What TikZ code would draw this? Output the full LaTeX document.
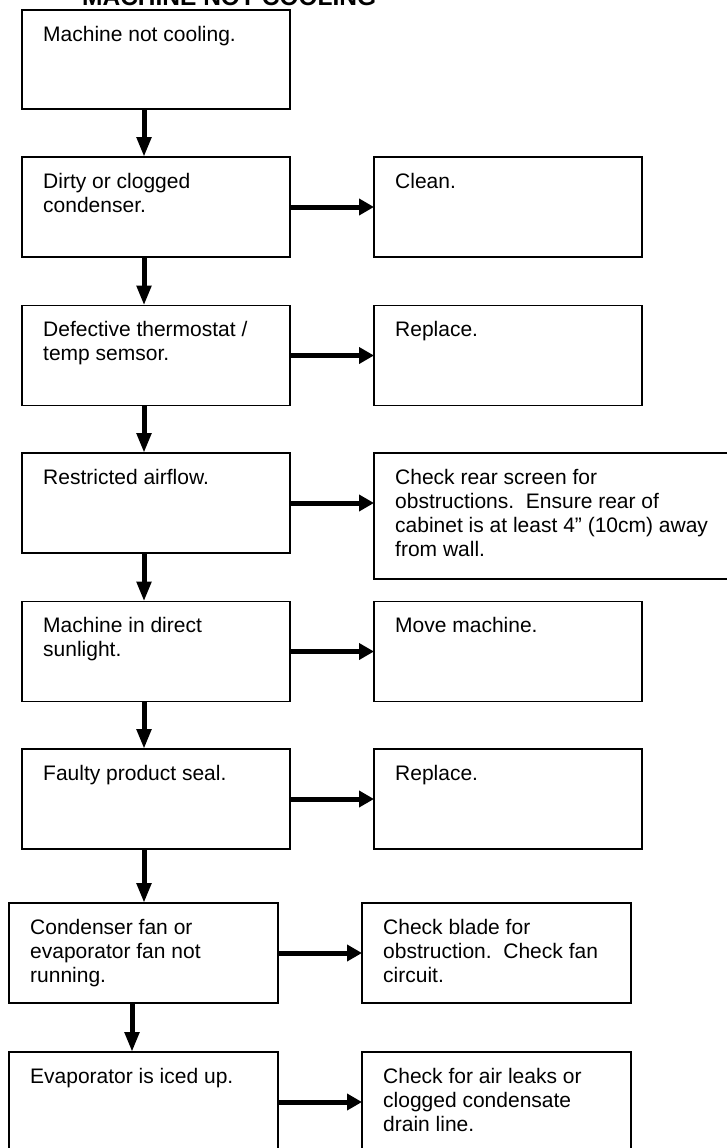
\documentclass[tikz,border=0pt]{standalone}
\usepackage{fontspec}
\setmainfont{Liberation Sans}
\usetikzlibrary{arrows.meta}
\begin{document}
\begin{tikzpicture}[x=1pt,y=-1pt,
  box/.style={draw=black, line width=1.6pt, minimum width=268pt, minimum height=100pt, inner sep=0pt, outer sep=0pt},
  txt/.style={anchor=north west, align=left, inner sep=0pt, font=\fontsize{21}{24}\selectfont},
  varr/.style={line width=5pt, -{Triangle[length=20pt,width=14pt]}},
  harr/.style={line width=5pt, -{Triangle[length=15pt,width=16pt]}}]
\useasboundingbox (0,0) rectangle (727,1148);
\node[font=\bfseries\fontsize{24.5}{28}\selectfont, anchor=base west, inner sep=0pt] (title) at (82,6) {MACHINE NOT COOLING};
% left column
\node[box, minimum height=99pt] (b1) at (156,59.5) {};
\node[box] (b2) at (156,207) {};
\node[box] (b3) at (156,355.5) {};
\node[box] (b4) at (156,503) {};
\node[box] (b5) at (156,651.5) {};
\node[box] (b6) at (156,799) {};
\node[box, minimum width=269pt] (b7) at (143.5,953) {};
\node[box, minimum width=269pt] (b8) at (143.5,1102) {};
% right column
\node[box] (r2) at (508,207) {};
\node[box] (r3) at (508,355.5) {};
\node[box, minimum width=396pt, minimum height=126pt] (r4) at (572,516) {};
\node[box] (r5) at (508,651.5) {};
\node[box] (r6) at (508,799) {};
\node[box, minimum width=269pt] (r7) at (496.5,953) {};
\node[box, minimum width=269pt] (r8) at (496.5,1102) {};
% texts
\newcommand{\fs}{\rule{0pt}{16pt}}
\node[txt] (t1) at ([shift={(21pt,-15pt)}]b1.north west) {\fs Machine not cooling.};
\node[txt] (t2) at ([shift={(21pt,-15pt)}]b2.north west) {\fs Dirty or clogged\\condenser.};
\node[txt] (t3) at ([shift={(21pt,-15pt)}]b3.north west) {\fs Defective thermostat /\\temp semsor.};
\node[txt] (t4) at ([shift={(21pt,-15pt)}]b4.north west) {\fs Restricted airflow.};
\node[txt] (t5) at ([shift={(21pt,-15pt)}]b5.north west) {\fs Machine in direct\\sunlight.};
\node[txt] (t6) at ([shift={(21pt,-15pt)}]b6.north west) {\fs Faulty product seal.};
\node[txt] (t7) at ([shift={(21pt,-15pt)}]b7.north west) {\fs Condenser fan or\\evaporator fan not\\running.};
\node[txt] (t8) at ([shift={(21pt,-15pt)}]b8.north west) {\fs Evaporator is iced up.};
\node[txt] (s2) at ([shift={(21pt,-15pt)}]r2.north west) {\fs Clean.};
\node[txt] (s3) at ([shift={(21pt,-15pt)}]r3.north west) {\fs Replace.};
\node[txt] (s4) at ([shift={(21pt,-15pt)}]r4.north west) {\fs Check rear screen for\\obstructions.\ \ Ensure rear of\\cabinet is at least 4” (10cm) away\\from wall.};
\node[txt] (s5) at ([shift={(21pt,-15pt)}]r5.north west) {\fs Move machine.};
\node[txt] (s6) at ([shift={(21pt,-15pt)}]r6.north west) {\fs Replace.};
\node[txt] (s7) at ([shift={(21pt,-15pt)}]r7.north west) {\fs Check blade for\\obstruction.\ \ Check fan\\circuit.};
\node[txt] (s8) at ([shift={(21pt,-15pt)}]r8.north west) {\fs Check for air leaks or\\clogged condensate\\drain line.};
% vertical arrows
\draw[varr] ([xshift=-12pt]b1.south) -- ([xshift=-12pt]b1.south |- b2.north);
\draw[varr] ([xshift=-12pt]b2.south) -- ([xshift=-12pt]b2.south |- b3.north);
\draw[varr] ([xshift=-12pt]b3.south) -- ([xshift=-12pt]b3.south |- b4.north);
\draw[varr] ([xshift=-12pt]b4.south) -- ([xshift=-12pt]b4.south |- b5.north);
\draw[varr] ([xshift=-12pt]b5.south) -- ([xshift=-12pt]b5.south |- b6.north);
\draw[varr] ([xshift=-12pt]b6.south) -- ([xshift=-12pt]b6.south |- b7.north);
\draw[varr] ([xshift=-11.5pt]b7.south) -- ([xshift=-11.5pt]b7.south |- b8.north);
% horizontal arrows
\draw[harr] (b2.east) -- (b2.east -| r2.west);
\draw[harr] (b3.east) -- (b3.east -| r3.west);
\draw[harr] (b4.east) -- (b4.east -| r4.west);
\draw[harr] (b5.east) -- (b5.east -| r5.west);
\draw[harr] (b6.east) -- (b6.east -| r6.west);
\draw[harr] (b7.east) -- (b7.east -| r7.west);
\draw[harr] (b8.east) -- (b8.east -| r8.west);
\end{tikzpicture}
\end{document}
